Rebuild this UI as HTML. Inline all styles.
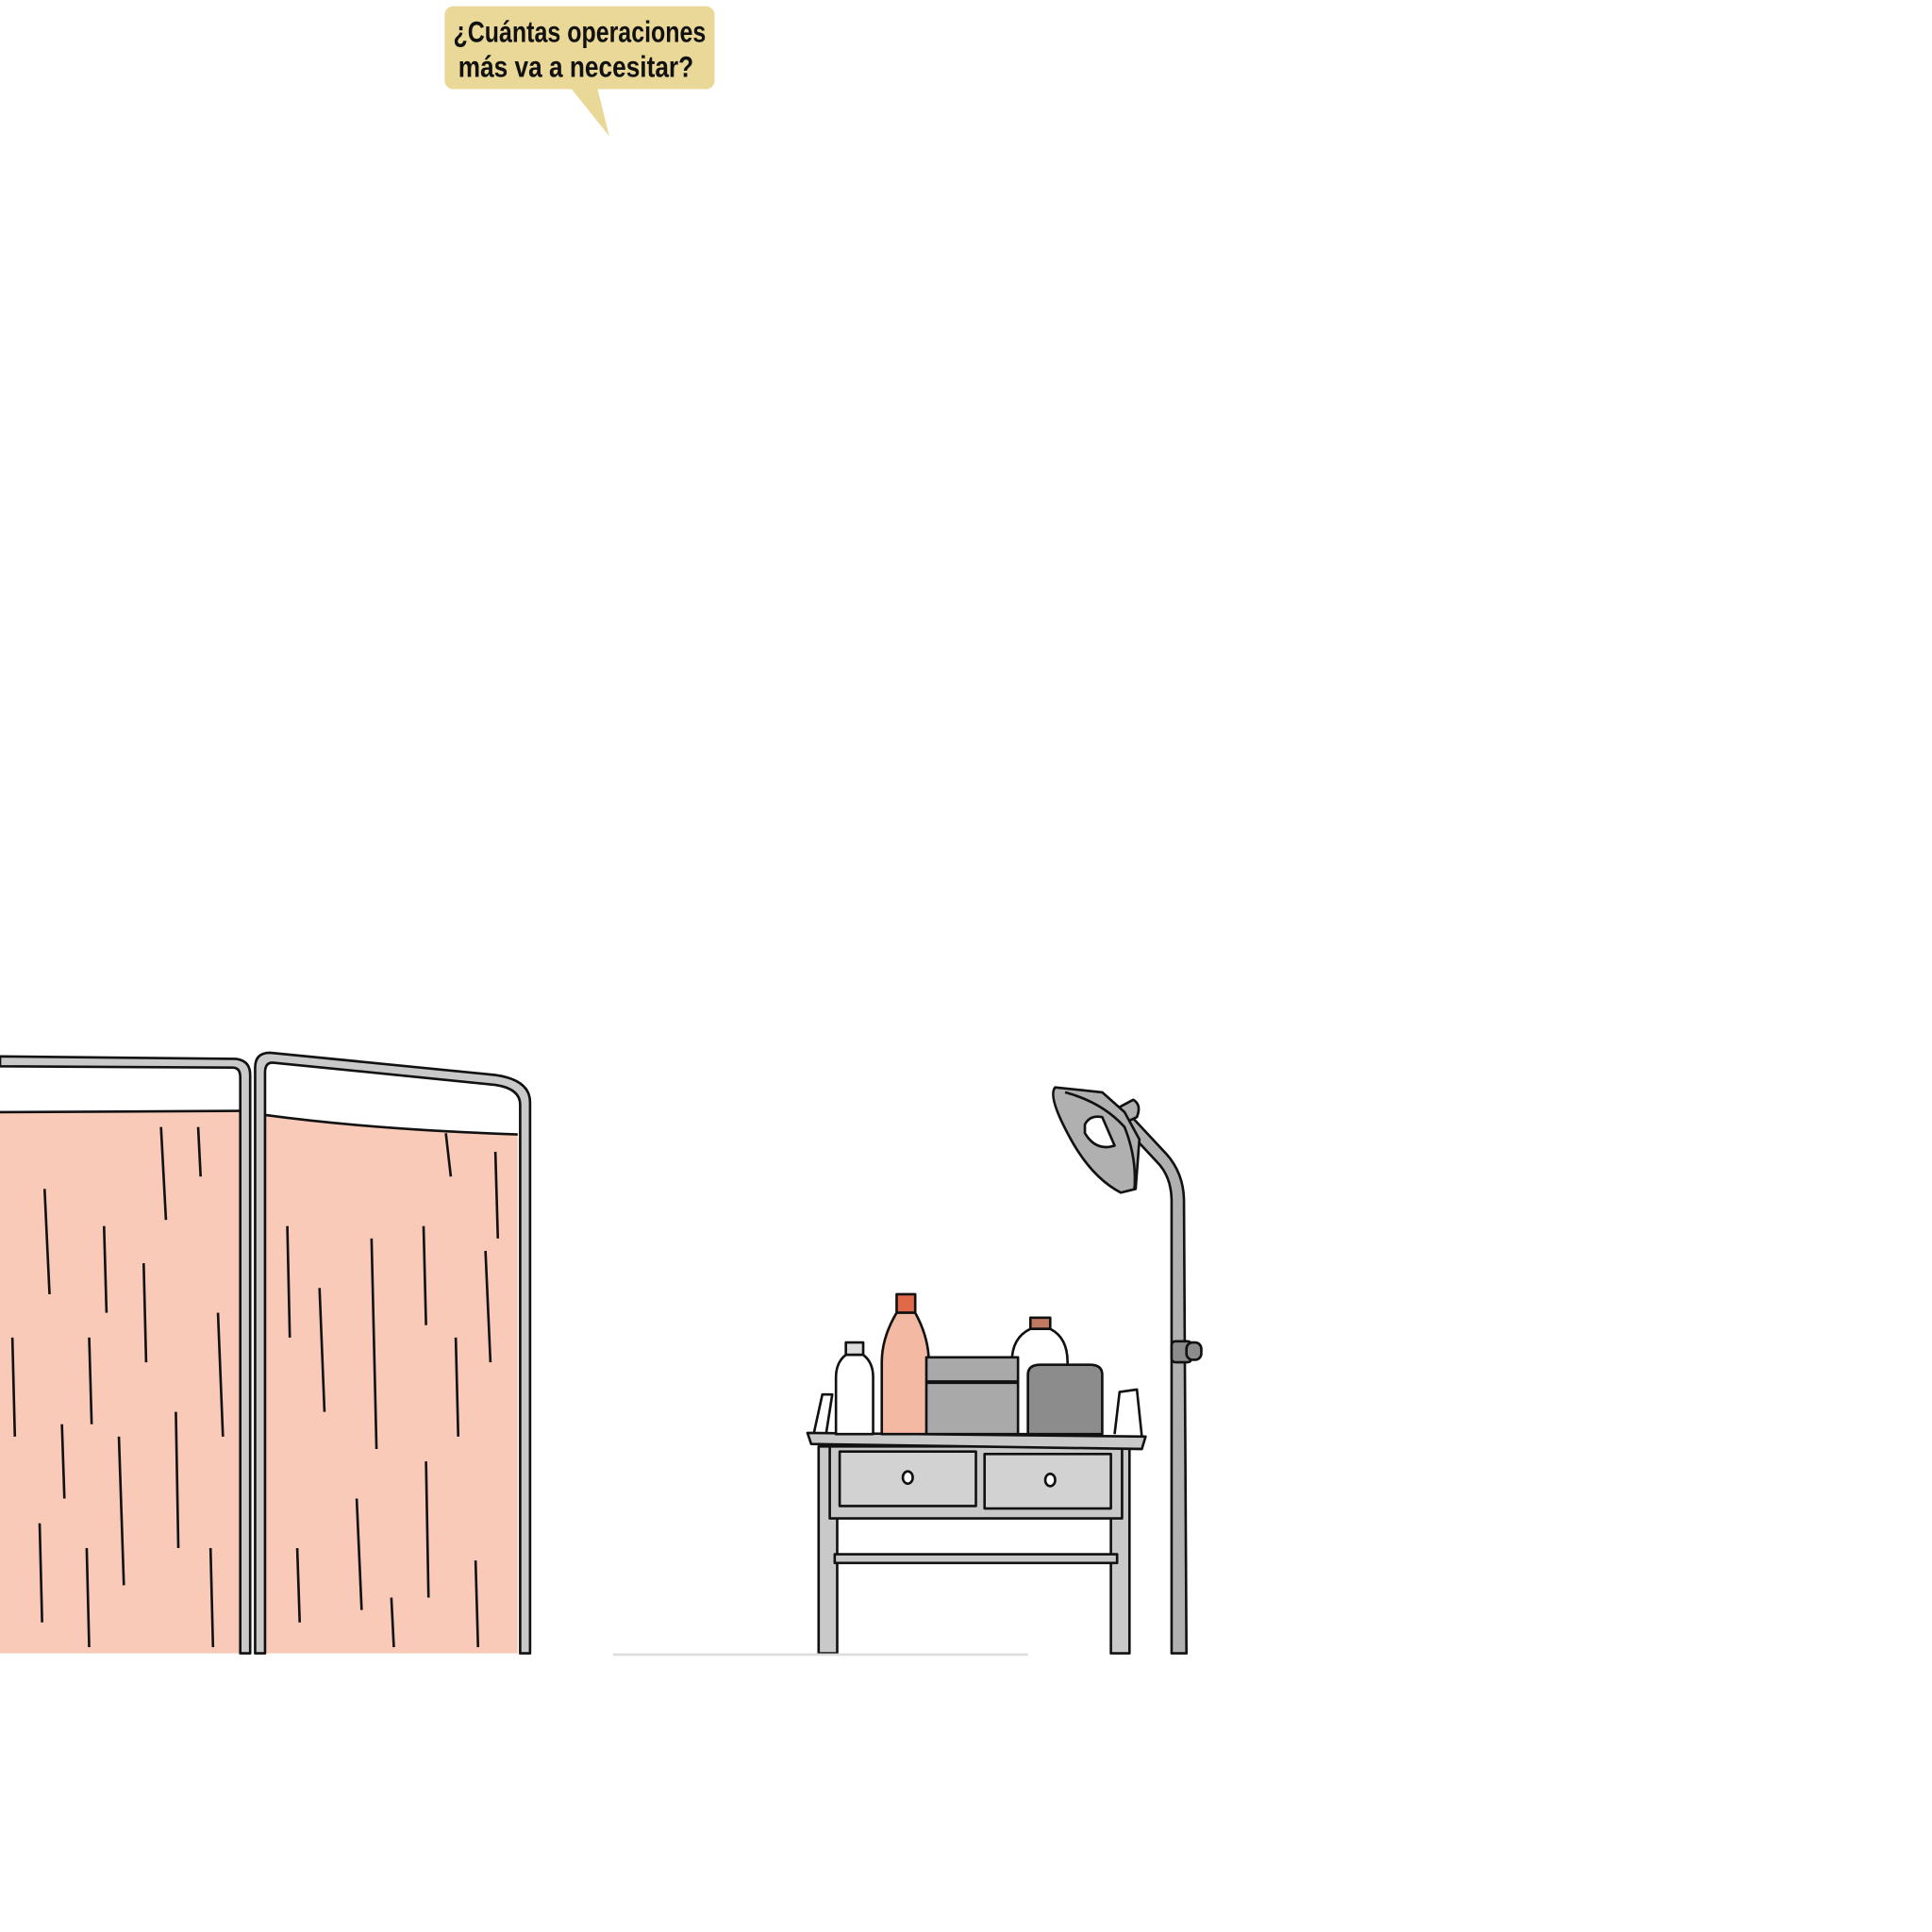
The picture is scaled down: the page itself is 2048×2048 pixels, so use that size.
<!DOCTYPE html>
<html><head><meta charset="utf-8">
<style>
html,body{margin:0;padding:0;background:#fff;}
svg{display:block;}
</style></head>
<body>
<svg width="2048" height="2048" viewBox="0 0 1560 1560" xmlns="http://www.w3.org/2000/svg">
  <rect width="1560" height="1560" fill="#fff"/>

  <g>
    <polygon points="460,70 492,110 482,70" fill="#ead898"/>
    <rect x="359" y="5" width="218" height="67" rx="7" fill="#ead898"/>
    <text x="468" y="34" text-anchor="middle" font-family="Liberation Sans Narrow, Liberation Sans, sans-serif" font-weight="bold" font-size="24" fill="#111" textLength="204" lengthAdjust="spacingAndGlyphs">¿Cuántas operaciones</text>
    <text x="465" y="62" text-anchor="middle" font-family="Liberation Sans Narrow, Liberation Sans, sans-serif" font-weight="bold" font-size="24" fill="#111" textLength="190" lengthAdjust="spacingAndGlyphs">más va a necesitar?</text>
  </g>

  <g stroke="#111" stroke-linejoin="round">
    <path d="M0,898 L195,897 L195,1335 L0,1335 Z" fill="#f9cab7" stroke="none"/>
    <path d="M212,900 Q300,912 418,916 L418,1335 L212,1335 Z" fill="#f9cab7" stroke="none"/>
    <path d="M0,898 L195,897" fill="none" stroke-width="2"/>
    <path d="M212,900 Q300,912 418,916" fill="none" stroke-width="2"/>
    <g stroke-width="2" fill="none">
      <path d="M36,960 L40,1045"/><path d="M84,990 L86,1060"/><path d="M130,910 L134,985"/>
      <path d="M72,1080 L74,1150"/><path d="M116,1020 L118,1100"/><path d="M10,1080 L12,1160"/>
      <path d="M50,1150 L52,1210"/><path d="M96,1160 L100,1280"/><path d="M142,1140 L144,1250"/>
      <path d="M176,1060 L180,1160"/><path d="M32,1230 L34,1310"/><path d="M70,1250 L72,1330"/>
      <path d="M170,1250 L172,1330"/><path d="M232,990 L234,1080"/><path d="M258,1040 L262,1140"/>
      <path d="M300,1000 L304,1170"/><path d="M342,990 L344,1070"/><path d="M368,1080 L370,1160"/>
      <path d="M392,1010 L396,1100"/><path d="M288,1210 L292,1300"/><path d="M344,1180 L346,1290"/>
      <path d="M384,1260 L386,1330"/><path d="M240,1250 L242,1310"/><path d="M316,1290 L318,1330"/>
      <path d="M160,910 L162,950"/><path d="M360,915 L364,950"/><path d="M400,930 L402,1000"/>
    </g>
    <path d="M0,853 L190,855 Q202,856 202,868 L202,1335 L194,1335 L194,870 Q194,862 188,862 L0,861 Z" fill="#c9c9c9" stroke-width="2"/>
    <path d="M206,1335 L206,862 Q206,850 218,850 L400,868 Q428,872 428,890 L428,1335 L420,1335 L420,892 Q420,879 400,876 L220,858 Q214,858 214,866 L214,1335 Z" fill="#c9c9c9" stroke-width="2"/>
  </g>

  <g stroke="#111" stroke-width="2" stroke-linejoin="round">
    <path d="M657,1158 L664,1126 L672,1126 L667,1158" fill="none"/>
    <path d="M900,1158 L904,1124 L918,1122 L922,1160" fill="none"/>
    <rect x="661" y="1168" width="15" height="167" fill="#c9c9c9"/>
    <rect x="897" y="1168" width="15" height="167" fill="#c9c9c9"/>
    <rect x="670" y="1168" width="236" height="58" fill="#c9c9c9"/>
    <rect x="678" y="1172" width="110" height="44" fill="#d2d2d2"/>
    <rect x="795" y="1174" width="102" height="44" fill="#d2d2d2"/>
    <ellipse cx="733" cy="1193" rx="4" ry="5" fill="#fff"/>
    <ellipse cx="848" cy="1195" rx="4" ry="5" fill="#fff"/>
    <rect x="674" y="1255" width="228" height="7" fill="#c9c9c9"/>
    <path d="M652,1157 L925,1160 L922,1170 L655,1166 Z" fill="#c9c9c9"/>
  </g>

  <g stroke="#111" stroke-width="2" stroke-linejoin="round">
    <rect x="683" y="1084" width="14" height="10" fill="#ddd"/>
    <path d="M683,1094 L697,1094 Q705,1100 705,1112 L705,1158 L675,1158 L675,1112 Q675,1100 683,1094 Z" fill="#fff"/>
    <rect x="724" y="1045" width="15" height="15" fill="#e0694a"/>
    <path d="M724,1060 L739,1060 Q750,1080 750,1100 L750,1158 L712,1158 L712,1100 Q712,1080 724,1060 Z" fill="#f3b9a3"/>
    <rect x="832" y="1064" width="16" height="9" fill="#c07a62"/>
    <path d="M832,1073 L848,1073 Q862,1080 862,1100 L862,1158 L817,1158 L817,1100 Q817,1080 832,1073 Z" fill="#fff"/>
    <rect x="748" y="1096" width="74" height="62" fill="#a9a9a9"/>
    <path d="M748,1116 L822,1116" stroke-width="3"/>
    <path d="M830,1110 Q830,1102 840,1102 L880,1102 Q890,1102 890,1110 L890,1158 L830,1158 Z" fill="#8c8c8c"/>
  </g>

  <g stroke="#111" stroke-width="2" stroke-linejoin="round">
    <path d="M946,1335 L946,970 Q946,950 934,938 L906,908 L914,902 L942,932 Q956,948 956,970 L958,1335 Z" fill="#b0b0b0"/>
    <rect x="946" y="1083" width="16" height="17" rx="3" fill="#8c8c8c"/>
    <rect x="958" y="1084" width="12" height="14" rx="5" fill="#8c8c8c"/>
    <path d="M900,896 L915,888 Q922,892 918,902 L905,908 Z" fill="#b0b0b0"/>
    <path d="M852,878 L890,882 L908,898 L920,920 L917,960 L905,963 Q880,950 862,915 Q846,885 852,878 Z" fill="#b0b0b0"/>
    <path d="M876,908 Q880,900 890,902 L900,925 Q885,930 876,915 Z" fill="#fff"/>
    <path d="M860,882 Q890,890 908,910 Q918,935 916,960" fill="none"/>
  </g>

  <path d="M495,1336 L830,1336" stroke="#ddd" stroke-width="2"/>
</svg>
</body></html>
